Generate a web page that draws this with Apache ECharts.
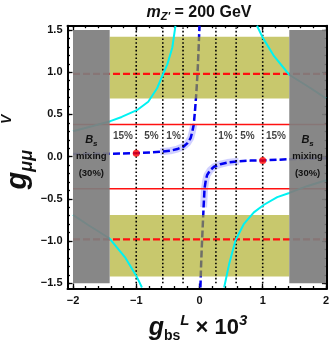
<!DOCTYPE html>
<html>
<head>
<meta charset="utf-8">
<script src="https://cdn.jsdelivr.net/npm/echarts@6/dist/echarts.min.js"></script>
<style>
  html, body { margin: 0; padding: 0; background: #fff; }
  #chart { width: 332px; height: 344px; }
</style>
</head>
<body>
<div id="chart"></div>
<script>
// tick labels
const xTicks = [-2, -1, 0, 1, 2];
const yTicks = [-1.5, -1.0, -0.5, 0.0, 0.5, 1.0, 1.5];

// blue curve (two branches)
const blueLeft = [
    [-2.0, 0.03], [-1.42, 0.035], [-1.0, 0.04], [-0.78, 0.05], [-0.62, 0.057],
    [-0.46, 0.07], [-0.35, 0.09], [-0.25, 0.12], [-0.19, 0.16], [-0.14, 0.22],
    [-0.115, 0.29], [-0.09, 0.38], [-0.07, 0.55], [-0.05, 0.75], [-0.03, 1.0],
    [-0.015, 1.25], [0.0, 1.55]
];
const blueRight = [
    [0.015, -1.55], [0.025, -1.3], [0.035, -1.1], [0.05, -0.85], [0.065, -0.6],
    [0.08, -0.38], [0.1, -0.28], [0.12, -0.22], [0.17, -0.16], [0.23, -0.12],
    [0.33, -0.09], [0.44, -0.07], [0.62, -0.055], [0.81, -0.047], [1.0, -0.045],
    [1.42, -0.03], [2.0, -0.02]
];

// cyan curves
const cyanTopLeft = [
    [-2.0, 0.3], [-1.7, 0.36], [-1.41, 0.42], [-1.23, 0.47], [-0.99, 0.55],
    [-0.81, 0.65], [-0.67, 0.81], [-0.58, 0.97], [-0.51, 1.09], [-0.43, 1.29], [-0.38, 1.55]
];
const cyanBottomRight = [
    [0.39, -1.55], [0.47, -1.27], [0.57, -0.99], [0.7, -0.8], [0.86, -0.66],
    [1.02, -0.57], [1.23, -0.48], [1.42, -0.43], [1.7, -0.35], [2.0, -0.28]
];
const cyanTopRight = [
    [0.91, 1.55], [1.0, 1.41], [1.18, 1.19], [1.42, 0.97], [1.76, 0.81], [2.0, 0.69]
];
const cyanBottomLeft = [
    [-2.0, -0.69], [-1.76, -0.81], [-1.42, -0.97], [-1.18, -1.19], [-1.0, -1.41], [-0.91, -1.55]
];

// benchmark points
const redPoints = [[-1.0, 0.04], [1.0, -0.045]];

// horizontal reference lines
const redDashedY = [0.98, -0.98];
const redSolidY = [0.38, -0.38];

// vertical dotted lines and their labels
const dottedX = [-1.0, -0.58, -0.26, 0.26, 0.58, 1.0];
const pctX = [-1.21, -0.76, -0.41, 0.41, 0.76, 1.21];
const pctText = ['15%', '5%', '1%', '1%', '5%', '15%'];
const pctY = 0.245;

// shaded regions
const bsLimit = 1.42;
const bandLow = 0.69;
const bandHigh = 1.42;

const xMin = -2.087, xMax = 2.016, yMin = -1.562, yMax = 1.551;

function fmt(v, d) {
    return v.toFixed(d).replace('-', '\u2212');
}

const xMinor = [];
for (let v = -2; v <= 2.001; v += 0.2) xMinor.push(+v.toFixed(2));
const yMinor = [];
for (let v = -1.5; v <= 1.501; v += 0.1) yMinor.push(+v.toFixed(2));

function xAxisDef(pos, ticks, len, showLine, showLabel) {
    return {
        type: 'value', position: pos, min: xMin, max: xMax,
        axisLine: { show: showLine, onZero: false, lineStyle: { color: '#000', width: 2 } },
        axisTick: { inside: true, length: len, customValues: ticks, lineStyle: { color: '#000', width: 1.3 } },
        axisLabel: {
            show: showLabel, customValues: ticks, margin: 7,
            formatter: v => fmt(v, 0),
            color: '#111', fontWeight: 'bold', fontSize: 11, fontFamily: 'Liberation Sans'
        },
        splitLine: { show: false }
    };
}

function yAxisDef(pos, ticks, len, showLine, showLabel) {
    return {
        type: 'value', position: pos, min: yMin, max: yMax,
        axisLine: { show: showLine, onZero: false, lineStyle: { color: '#000', width: 2 } },
        axisTick: { inside: true, length: len, customValues: ticks, lineStyle: { color: '#000', width: 1.3 } },
        axisLabel: {
            show: showLabel, customValues: ticks, margin: 5,
            formatter: v => fmt(v, 1),
            color: '#111', fontWeight: 'bold', fontSize: 11, fontFamily: 'Liberation Sans'
        },
        splitLine: { show: false }
    };
}

function lineSeries(data, color, width, type, z) {
    return {
        type: 'line', data: data, showSymbol: false, silent: true, clip: true, z: z,
        lineStyle: { color: color, width: width, type: type, cap: 'butt' }
    };
}

const series = [];

// halo around the blue curve
series.push(lineSeries(blueLeft.filter(p => p[0] >= -0.62 && p[1] <= 0.4), 'rgba(120,120,255,0.35)', 7, 'solid', 2));
series.push(lineSeries(blueRight.filter(p => p[0] <= 0.62 && p[1] >= -0.6), 'rgba(120,120,255,0.35)', 7, 'solid', 2));
// blue dashed curve
series.push(lineSeries(blueLeft, '#0000f0', 2.5, [7, 3], 3));
series.push(lineSeries(blueRight, '#0000f0', 2.5, [7, 3], 3));

// olive bands
series.push({
    type: 'scatter', data: [], z: 4, silent: true,
    markArea: {
        silent: true, z: 4,
        itemStyle: { color: 'rgba(170,170,30,0.65)' },
        data: [
            [{ coord: [-bsLimit, bandLow] }, { coord: [bsLimit, bandHigh] }],
            [{ coord: [-bsLimit, -bandHigh] }, { coord: [bsLimit, -bandLow] }]
        ]
    }
});

// red lines
redDashedY.forEach(y => series.push(lineSeries([[-2, y], [2, y]], '#ff1010', 2.4, [7, 3], 8)));
redSolidY.forEach(y => series.push(lineSeries([[-2, y], [2, y]], '#ff1010', 1.6, 'solid', 8)));

// dotted verticals
dottedX.forEach(x => series.push(lineSeries([[x, -1.5], [x, 1.53]], '#000', 1.6, [1.6, 2.2], 8)));

// cyan curves
[cyanTopLeft, cyanBottomRight, cyanTopRight, cyanBottomLeft].forEach(d =>
    series.push(lineSeries(d, '#00f2f2', 2, 'solid', 9)));

// red dots
series.push({
    type: 'scatter', data: redPoints, symbolSize: 7, z: 9, silent: true,
    itemStyle: { color: '#ff0000' }
});

// percentage labels
series.push({
    type: 'scatter', symbolSize: 0, z: 9, silent: true,
    data: pctX.map((x, i) => ({ name: pctText[i], value: [x, pctY] })),
    label: {
        show: true, position: 'inside', formatter: '{b}',
        color: '#111', fontWeight: 'bold', fontSize: 10, fontFamily: 'Liberation Sans'
    }
});

// Bs mixing excluded regions
const grayLabel = {
    show: true, position: 'inside',
    formatter: '{b|B}{s|s}\n{t|mixing}\n{t|(30%)}',
    rich: {
        b: { fontSize: 11, fontWeight: 'bold', fontStyle: 'italic', color: '#111', fontFamily: 'Liberation Sans', lineHeight: 16 },
        s: { fontSize: 8, fontWeight: 'bold', fontStyle: 'italic', color: '#111', fontFamily: 'Liberation Sans', verticalAlign: 'bottom', lineHeight: 16 },
        t: { fontSize: 9.5, fontWeight: 'bold', color: '#111', fontFamily: 'Liberation Sans', lineHeight: 17 }
    }
};
series.push({
    type: 'scatter', data: [], z: 12, silent: true,
    markArea: {
        silent: true, z: 12,
        itemStyle: { color: '#7e7e7e', opacity: 0.93 },
        label: grayLabel,
        data: [
            [{ coord: [-2, -1.5] }, { coord: [-bsLimit, 1.5] }],
            [{ coord: [bsLimit, -1.5] }, { coord: [2, 1.5] }]
        ]
    }
});

const chart = echarts.init(document.getElementById('chart'), null, { renderer: 'canvas' });
chart.setOption({
    animation: false,
    grid: { left: 67.5, right: 5, top: 25.7, bottom: 55.5, containLabel: false },
    xAxis: [
        xAxisDef('bottom', xTicks, 5, true, true),
        xAxisDef('top', xTicks, 5, true, false),
        xAxisDef('bottom', xMinor, 2.5, false, false),
        xAxisDef('top', xMinor, 2.5, false, false)
    ],
    yAxis: [
        yAxisDef('left', yTicks, 5, true, true),
        yAxisDef('right', yTicks, 5, true, false),
        yAxisDef('left', yMinor, 2.5, false, false),
        yAxisDef('right', yMinor, 2.5, false, false)
    ],
    graphic: [
        {
            type: 'text', x: 199, y: 13, silent: true,
            style: {
                text: '{m|m}{z|Z\'}{t| = 200 GeV}',
                align: 'center', verticalAlign: 'middle',
                rich: {
                    m: { fontSize: 16, fontWeight: 'bold', fontStyle: 'italic', fontFamily: 'Liberation Sans', lineHeight: 19, fill: '#111' },
                    z: { fontSize: 11, fontWeight: 'bold', fontStyle: 'italic', fontFamily: 'Liberation Sans', verticalAlign: 'bottom', lineHeight: 19, fill: '#111' },
                    t: { fontSize: 16, fontWeight: 'bold', fontFamily: 'Liberation Sans', lineHeight: 19, fill: '#111' }
                }
            }
        },
        {
            type: 'text', x: 198, y: 328, silent: true,
            style: {
                text: '{g|g}{sub|bs}{sup|L}{t| \u00d7 10}{sup|3}',
                align: 'center', verticalAlign: 'middle',
                rich: {
                    g: { fontSize: 25, fontWeight: 'bold', fontStyle: 'italic', fontFamily: 'Liberation Sans', lineHeight: 30, fill: '#111' },
                    sub: { fontSize: 14, fontWeight: 'bold', fontFamily: 'Liberation Sans', verticalAlign: 'bottom', lineHeight: 30, fill: '#111' },
                    sup: { fontSize: 15, fontWeight: 'bold', fontStyle: 'italic', fontFamily: 'Liberation Sans', verticalAlign: 'top', lineHeight: 30, fill: '#111' },
                    t: { fontSize: 22, fontWeight: 'bold', fontFamily: 'Liberation Sans', lineHeight: 30, fill: '#111' }
                }
            }
        },
        {
            type: 'text', x: 18, y: 152, rotation: Math.PI / 2, silent: true,
            style: {
                text: '{g|g}{sub|\u03bc\u03bc}{sup|V}',
                align: 'center', verticalAlign: 'middle',
                rich: {
                    g: { fontSize: 29, fontWeight: 'bold', fontStyle: 'italic', fontFamily: 'Liberation Sans', lineHeight: 36, fill: '#111' },
                    sub: { fontSize: 18, fontWeight: 'bold', fontStyle: 'italic', fontFamily: 'Liberation Sans', verticalAlign: 'bottom', lineHeight: 36, fill: '#111' },
                    sup: { fontSize: 14, fontWeight: 'bold', fontStyle: 'italic', fontFamily: 'Liberation Sans', verticalAlign: 'top', lineHeight: 36, padding: [0, 0, 0, 26], fill: '#111' }
                }
            }
        }
    ],
    series: series
});
</script>
</body>
</html>
